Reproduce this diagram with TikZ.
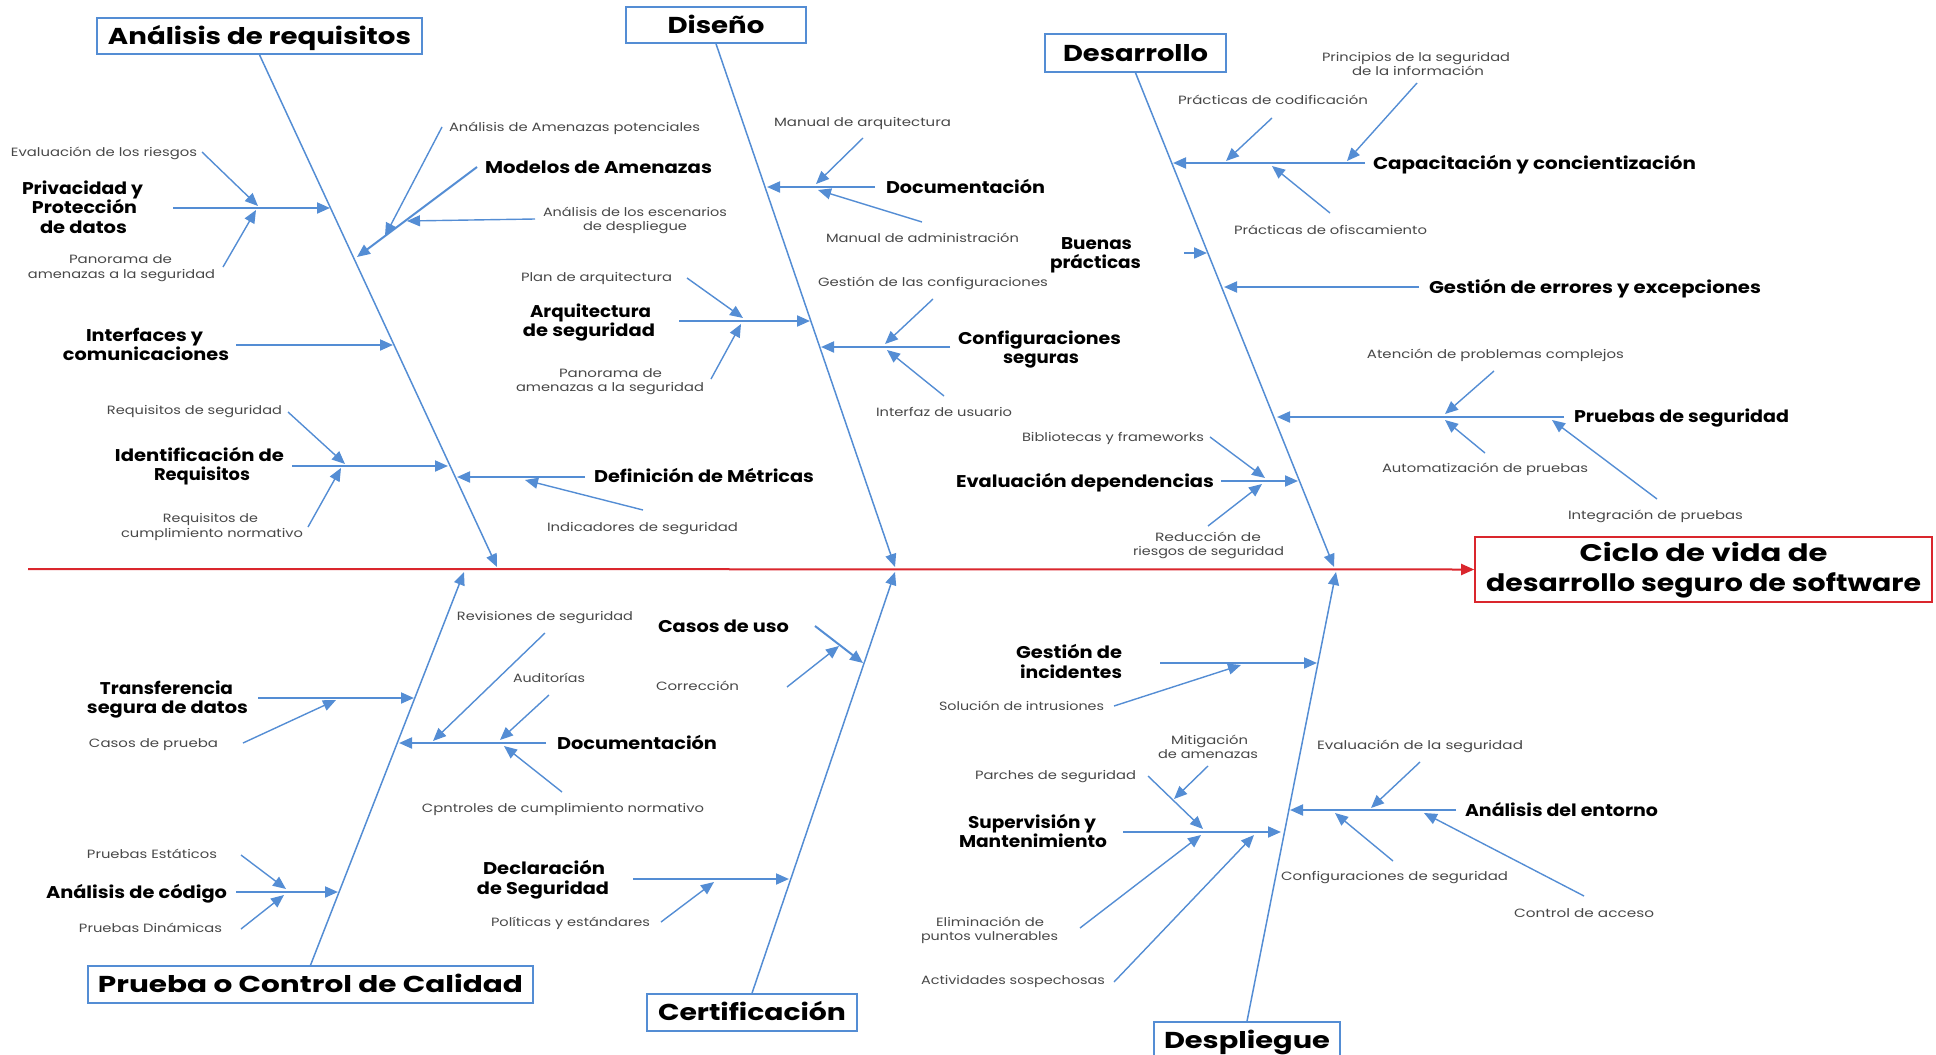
\documentclass[tikz,border=0pt]{standalone}
\usepackage{fontspec}
\setmainfont{Poppins}
\usepackage{graphicx}
\usetikzlibrary{arrows.meta}
\definecolor{blu}{RGB}{84,141,212}
\definecolor{redl}{RGB}{218,38,45}
\definecolor{txtg}{RGB}{72,72,72}
\newcommand\fitw[2]{\resizebox{#1pt}{\height}{#2}}
\newcommand\mysm[4]{\node[sm] (#1) at (#2) {\fitw{#3}{#4}};}
\newcommand\mylb[4]{\node[lab] (#1) at (#2) {\fitw{#3}{#4}};}
\newcommand\mycon[4]{\coordinate (#2a) at (#3); \coordinate (#2b) at (#4); \draw[#1] (#2a) -- (#2b);}
\tikzset{
  sm/.style={font=\fontsize{12}{14}\selectfont, text=txtg, inner sep=0pt, text height=8.5pt, text depth=0pt},
  lab/.style={font=\fontsize{17}{20}\selectfont\bfseries, text=black, inner sep=0pt, text height=12pt, text depth=0pt},
  cat/.style={draw=blu, line width=1.6pt, fill=white, inner sep=0pt, font=\fontsize{23}{27}\selectfont\bfseries, text height=16pt, text depth=0pt},
  ttl/.style={font=\fontsize{24}{30}\selectfont\bfseries, inner sep=0pt, text height=17pt, text depth=0pt},
  goalbox/.style={draw=redl, line width=1.6pt, fill=white, inner sep=0pt, minimum width=457pt, minimum height=65pt},
  spine/.style={draw=redl, line width=2pt, -{Triangle[length=13pt,width=11pt]}},
  bone/.style={draw=blu, line width=1.5pt, -{Triangle[length=13pt,width=11pt]}},
  br/.style={draw=blu, line width=2pt, -{Triangle[length=13pt,width=11pt]}},
  sub/.style={draw=blu, line width=1.4pt, -{Triangle[length=13pt,width=11pt]}}
}
\begin{document}
\begin{tikzpicture}[x=1pt,y=-1pt]
\useasboundingbox (0,0) rectangle (1936,1055);
% ---------- goal and spine ----------
\node[goalbox] (goal) at (1703.5,569.5) {};
\node[ttl] (goal1) at (1703.5,553) {\fitw{248}{Ciclo de vida de}};
\node[ttl] (goal2) at (1703.5,583) {\fitw{435}{desarrollo seguro de software}};
\coordinate (tail) at (28,569);
\draw[spine] (tail) -- (goal.west);
% ---------- category boxes ----------
\coordinate (sA) at (497,567);
\coordinate (sB) at (895,567);
\coordinate (sC) at (1334,567);
\coordinate (sD) at (464,572);
\coordinate (sE) at (895,572);
\coordinate (sF) at (1336,572);
\node[cat, minimum width=325pt, minimum height=36pt] (cA) at (259.5,36) {\fitw{303}{Análisis de requisitos}};
\node[cat, minimum width=180pt, minimum height=36pt] (cB) at (716,25) {\fitw{97}{Diseño}};
\node[cat, minimum width=181pt, minimum height=38pt] (cC) at (1135.5,53) {\fitw{145}{Desarrollo}};
\node[cat, minimum width=445pt, minimum height=37pt] (cD) at (310.5,984.5) {\fitw{425}{Prueba o Control de Calidad}};
\node[cat, minimum width=210pt, minimum height=37pt] (cE) at (752,1012.5) {\fitw{188}{Certificación}};
\node[cat, minimum width=186pt, minimum height=36pt] (cF) at (1247,1040) {\fitw{166}{Despliegue}};
\draw[bone] (cA.south) -- (sA);
\draw[bone] (cB.south) -- (sB);
\draw[bone] (cC.south) -- (sC);
\draw[bone] (cD.north) -- (sD);
\draw[bone] (cE.north) -- (sE);
\draw[bone] (cF.north) -- (sF);
% ---------- Analisis de requisitos ----------
\mylb{priv1}{82.5,188}{121}{Privacidad y}
\mylb{priv2}{84.5,207}{105}{Protección}
\mylb{priv3}{83.5,227}{87}{de datos}
\mysm{riesg}{104,152}{186}{Evaluación de los riesgos}
\mysm{pana}{120.5,259}{103}{Panorama de}
\mysm{panb}{121.5,274}{187}{amenazas a la seguridad}
\mycon{br}{kpriv}{173,208}{330,208}
\mycon{sub}{kriesg}{202,152}{258,206}
\mycon{sub}{kpan}{223,267}{256,210}
\mylb{intf1}{144.5,335}{117}{Interfaces y}
\mylb{intf2}{146,354}{166}{comunicaciones}
\mycon{br}{kintf}{236,345}{393,345}
\mylb{ident1}{199.5,455}{169}{Identificación de}
\mylb{ident2}{202,474}{96}{Requisitos}
\mycon{br}{kident}{292,466}{448,466}
\mysm{reqseg}{194.5,410}{175}{Requisitos de seguridad}
\mycon{sub}{kreqseg}{288,412}{345,464}
\mysm{reqca}{210.5,518}{95}{Requisitos de}
\mysm{reqcb}{212,533}{182}{cumplimiento normativo}
\mycon{sub}{kreqc}{308,527}{341,468}
\mylb{model}{598.5,167}{227}{Modelos de Amenazas}
\mycon{br}{kmodel}{477,167}{357,257}
\mysm{anam}{574.5,127}{251}{Análisis de Amenazas potenciales}
\mycon{sub}{kanam}{442,127}{385,236}
\mysm{esca}{635,212}{184}{Análisis de los escenarios}
\mysm{escb}{635,226}{104}{de despliegue}
\mycon{sub}{kesc}{535,219}{407,221}
\mylb{metr}{704,476}{220}{Definición de Métricas}
\mycon{br}{kmetr}{585,477}{457,477}
\mysm{indic}{642.5,527}{191}{Indicadores de seguridad}
\mycon{sub}{kindic}{643,510}{525,480}
% ---------- Diseno ----------
\mylb{doca}{965.5,187}{159}{Documentación}
\mycon{br}{kdoca}{875,187}{767,187}
\mysm{marq}{862.5,122}{177}{Manual de arquitectura}
\mycon{sub}{kmarq}{863,138}{816,184}
\mysm{madm}{922.5,238}{193}{Manual de administración}
\mycon{sub}{kmadm}{922,222}{818,190}
\mylb{arq1}{590.5,311}{121}{Arquitectura}
\mylb{arq2}{589,330}{132}{de seguridad}
\mycon{br}{karq}{679,321}{810,321}
\mysm{plan}{596.5,277}{151}{Plan de arquitectura}
\mycon{sub}{kplan}{687,278}{743,318}
\mysm{panc}{610.5,373}{103}{Panorama de}
\mysm{pand}{610,387}{188}{amenazas a la seguridad}
\mycon{sub}{kpanb}{711,379}{741,324}
\mylb{conf1}{1039.5,338}{163}{Configuraciones}
\mylb{conf2}{1041,357}{76}{seguras}
\mycon{br}{kconf}{950,347}{821,347}
\mysm{gconf}{933,282}{230}{Gestión de las configuraciones}
\mycon{sub}{kgconf}{933,299}{885,344}
\mysm{intz}{944,412}{136}{Interfaz de usuario}
\mycon{sub}{kintz}{944,396}{887,350}
% ---------- Desarrollo ----------
\mylb{capac}{1534.5,163}{323}{Capacitación y concientización}
\mycon{br}{kcapac}{1365,163}{1173,163}
\mysm{pcod}{1273,100}{190}{Prácticas de codificación}
\mycon{sub}{kpcod}{1272,118}{1226,161}
\mysm{princa}{1416,57}{188}{Principios de la seguridad}
\mysm{princb}{1418,71}{132}{de la información}
\mycon{sub}{kprinc}{1417,83}{1347,161}
\mysm{pofis}{1330.5,230}{193}{Prácticas de ofiscamiento}
\mycon{sub}{kpofis}{1330,213}{1272,166}
\mylb{buen1}{1096.5,243}{71}{Buenas}
\mylb{buen2}{1095.5,262}{91}{prácticas}
\mycon{br}{kbuen}{1184,253}{1207,253}
\mylb{gerr}{1595,287}{332}{Gestión de errores y excepciones}
\mycon{br}{kgerr}{1419,287}{1224,287}
\mylb{pseg}{1681.5,416}{215}{Pruebas de seguridad}
\mycon{br}{kpseg}{1564,417}{1277,417}
\mysm{aten}{1495.5,354}{257}{Atención de problemas complejos}
\mycon{sub}{katen}{1494,371}{1445,414}
\mysm{autom}{1485,468}{206}{Automatización de pruebas}
\mycon{sub}{kautom}{1485,453}{1445,420}
\mysm{integ}{1655.5,515}{175}{Integración de pruebas}
\mycon{sub}{kinteg}{1657,499}{1552,420}
\mylb{evdep}{1085,481}{258}{Evaluación dependencias}
\mycon{br}{kevdep}{1221,481}{1298,481}
\mysm{bibl}{1113,437}{182}{Bibliotecas y frameworks}
\mycon{sub}{kbibl}{1210,437}{1265,478}
\mysm{reda}{1208,537}{106}{Reducción de}
\mysm{redb}{1208.5,551}{151}{riesgos de seguridad}
\mycon{sub}{kred}{1208,526}{1262,484}
% ---------- Prueba o Control de Calidad ----------
\mylb{trf1}{166.5,688}{133}{Transferencia}
\mylb{trf2}{167.5,707}{161}{segura de datos}
\mycon{br}{ktrf}{258,698}{414,698}
\mysm{cprueba}{153.5,743}{129}{Casos de prueba}
\mycon{sub}{kcprueba}{243,743}{336,700}
\mylb{docb}{637,743}{160}{Documentación}
\mycon{br}{kdocb}{546,743}{399,743}
\mysm{revis}{545,616}{176}{Revisiones de seguridad}
\mycon{sub}{krevis}{545,633}{433,741}
\mysm{audit}{549,678}{72}{Auditorías}
\mycon{sub}{kaudit}{549,695}{500,740}
\mysm{contr}{563,808}{282}{Cpntroles de cumplimiento normativo}
\mycon{sub}{kcontr}{562,792}{504,746}
\mylb{ancod}{136.5,892}{181}{Análisis de código}
\mycon{br}{kancod}{236,892}{338,892}
\mysm{pest}{152,854}{130}{Pruebas Estáticos}
\mycon{sub}{kpest}{241,855}{286,889}
\mysm{pdin}{150.5,928}{143}{Pruebas Dinámicas}
\mycon{sub}{kpdin}{241,929}{284,895}
% ---------- Certificacion ----------
\mylb{cuso}{723.5,626}{131}{Casos de uso}
\mycon{br}{kcuso}{815,626}{863,663}
\mysm{corr}{697.5,686}{83}{Corrección}
\mycon{sub}{kcorr}{787,687}{839,646}
\mylb{decl1}{544,868}{122}{Declaración}
\mylb{decl2}{543,888}{132}{de Seguridad}
\mycon{br}{kdecl}{633,879}{789,879}
\mysm{polit}{570.5,922}{159}{Políticas y estándares}
\mycon{sub}{kpolit}{661,922}{714,882}
% ---------- Despliegue ----------
\mylb{ginc1}{1069,652}{106}{Gestión de}
\mylb{ginc2}{1071,672}{102}{incidentes}
\mycon{br}{kginc}{1160,663}{1317,663}
\mysm{soluc}{1021.5,706}{165}{Solución de intrusiones}
\mycon{sub}{ksoluc}{1114,706}{1241,665}
\mylb{sup1}{1032,822}{128}{Supervisión y}
\mylb{sup2}{1033,841}{148}{Mantenimiento}
\mycon{br}{ksup}{1123,832}{1281,832}
\mysm{parch}{1055.5,775}{161}{Parches de seguridad}
\mycon{sub}{kparch}{1148,776}{1203,829}
\mysm{mitiga}{1209.5,740}{77}{Mitigación}
\mysm{mitigb}{1208,754}{100}{de amenazas}
\mycon{sub}{kmitig}{1208,766}{1174,799}
\mysm{elima}{990,922}{108}{Eliminación de}
\mysm{elimb}{989.5,936}{137}{puntos vulnerables}
\mycon{sub}{kelim}{1080,928}{1201,835}
\mysm{activ}{1013,980}{184}{Actividades sospechosas}
\mycon{sub}{kactiv}{1114,982}{1254,835}
\mylb{anent}{1561.5,810}{193}{Análisis del entorno}
\mycon{br}{kanent}{1456,810}{1290,810}
\mysm{evseg}{1420,745}{206}{Evaluación de la seguridad}
\mycon{sub}{kevseg}{1420,762}{1371,808}
\mysm{confseg}{1394.5,876}{227}{Configuraciones de seguridad}
\mycon{sub}{kconfseg}{1393,861}{1335,813}
\mysm{ctrl}{1584,913}{140}{Control de acceso}
\mycon{sub}{kctrl}{1584,896}{1424,813}
\end{tikzpicture}
\end{document}
